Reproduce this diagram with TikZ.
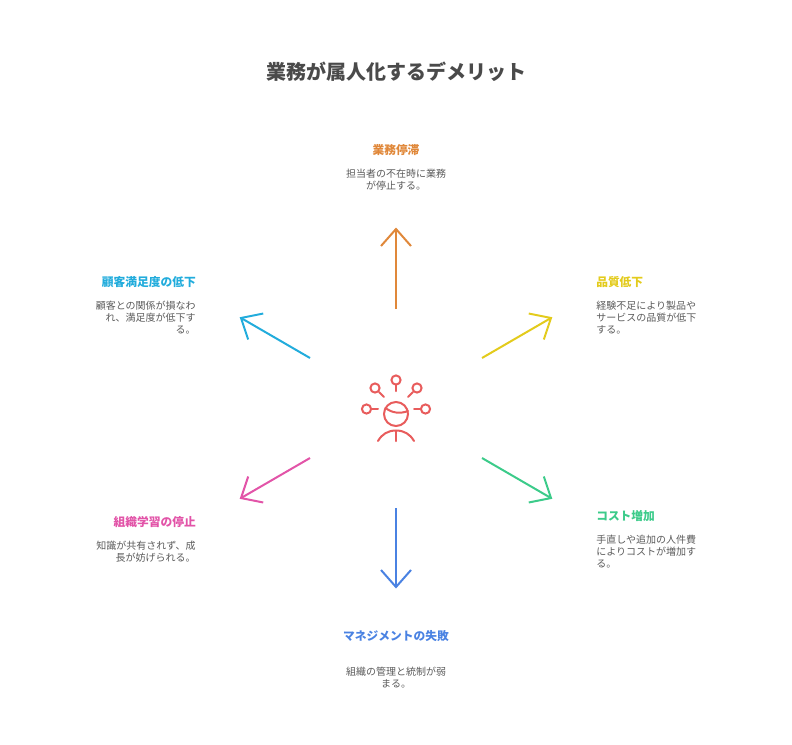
\documentclass[tikz,border=0pt]{standalone}
\usepackage{fontspec}
\setmainfont{Noto Sans CJK JP}
\usetikzlibrary{arrows.meta}
\definecolor{ink}{HTML}{4A4A4A}
\definecolor{txt}{HTML}{5A5A5A}
\definecolor{c1}{HTML}{E0883A}
\definecolor{c2}{HTML}{E3CB1C}
\definecolor{c3}{HTML}{3CCB8A}
\definecolor{c4}{HTML}{4A82E2}
\definecolor{c5}{HTML}{E254A8}
\definecolor{c6}{HTML}{22ACDC}
\definecolor{c7}{HTML}{E85C5C}
\tikzset{
  head/.style={inner sep=0pt,font=\fontsize{8.8}{11}\selectfont\bfseries},
  body/.style={inner sep=0pt,text=txt,font=\fontsize{7.5}{9}\selectfont},
  arw/.style={line width=1.5pt,-{Straight Barb[length=12.75pt,width=22.5pt,line width=1.5pt]}},
  icon/.style={line width=1.5pt,draw=c7,line cap=round}
}
\begin{document}
\begin{tikzpicture}[x=0.75pt,y=-0.75pt]
  \useasboundingbox (0,0) rectangle (792,744);
  \node (title) at (396,72)[inner sep=0pt,text=ink,font=\fontsize{15}{18}\selectfont\bfseries]{業務が属人化するデメリット};

  \node (h1) at (396,150)[head,text=c1]{業務停滞};
  \node (b1) at (396,180)[body,align=center]{担当者の不在時に業務\\が停止する。};

  \node (h2) at (596,282)[head,text=c2,anchor=west]{品質低下};
  \node (b2) at (596,318)[body,align=left,anchor=west]{経験不足により製品や\\サービスの品質が低下\\する。};

  \node (h3) at (596,516)[head,text=c3,anchor=west]{コスト増加};
  \node (b3) at (596,552)[body,align=left,anchor=west]{手直しや追加の人件費\\によりコストが増加す\\る。};

  \node (h4) at (396,636)[head,text=c4]{マネジメントの失敗};
  \node (b4) at (396,678)[body,align=center]{組織の管理と統制が弱\\まる。};

  \node (h5) at (196,522)[head,text=c5,anchor=east]{組織学習の停止};
  \node (b5) at (196,552)[body,align=right,anchor=east]{知識が共有されず、成\\長が妨げられる。};

  \node (h6) at (196,282)[head,text=c6,anchor=east]{顧客満足度の低下};
  \node (b6) at (196,318)[body,align=right,anchor=east]{顧客との関係が損なわ\\れ、満足度が低下す\\る。};

  \coordinate (s1) at (396,309);
  \coordinate (e1) at (396,227.5);
  \coordinate (s2) at (482,358);
  \coordinate (e2) at (552.3,317.2);
  \coordinate (s3) at (482,458);
  \coordinate (e3) at (552.3,498.8);
  \coordinate (s4) at (396,508);
  \coordinate (e4) at (396,588.5);
  \coordinate (s5) at (310,458);
  \coordinate (e5) at (239.7,498.8);
  \coordinate (s6) at (310,358);
  \coordinate (e6) at (239.7,317.2);

  \draw[arw,c1](s1)--(e1);
  \draw[arw,c2](s2)--(e2);
  \draw[arw,c3](s3)--(e3);
  \draw[arw,c4](s4)--(e4);
  \draw[arw,c5](s5)--(e5);
  \draw[arw,c6](s6)--(e6);

  % person with pins
  \draw[icon](396,380) circle (4.6);
  \draw[icon](375,388) circle (4.6);
  \draw[icon](417,388) circle (4.6);
  \draw[icon](366.5,409) circle (4.6);
  \draw[icon](425.5,409) circle (4.6);
  \draw[icon](396,385)--(396,391);
  \draw[icon](379,392)--(384,397);
  \draw[icon](413,392)--(408,397);
  \draw[icon](372,409)--(378,409);
  \draw[icon](414,409)--(420,409);
  \draw[icon](396,414) circle (12);
  \draw[icon](385.5,408) .. controls (392,413) and (400,414) .. (408,411);
  \draw[icon](378,441) .. controls (382,434) and (388,430.5) .. (396,430.5) .. controls (404,430.5) and (410,434) .. (414,441);
  \draw[icon](396,430.5)--(396,441);
\end{tikzpicture}
\end{document}
